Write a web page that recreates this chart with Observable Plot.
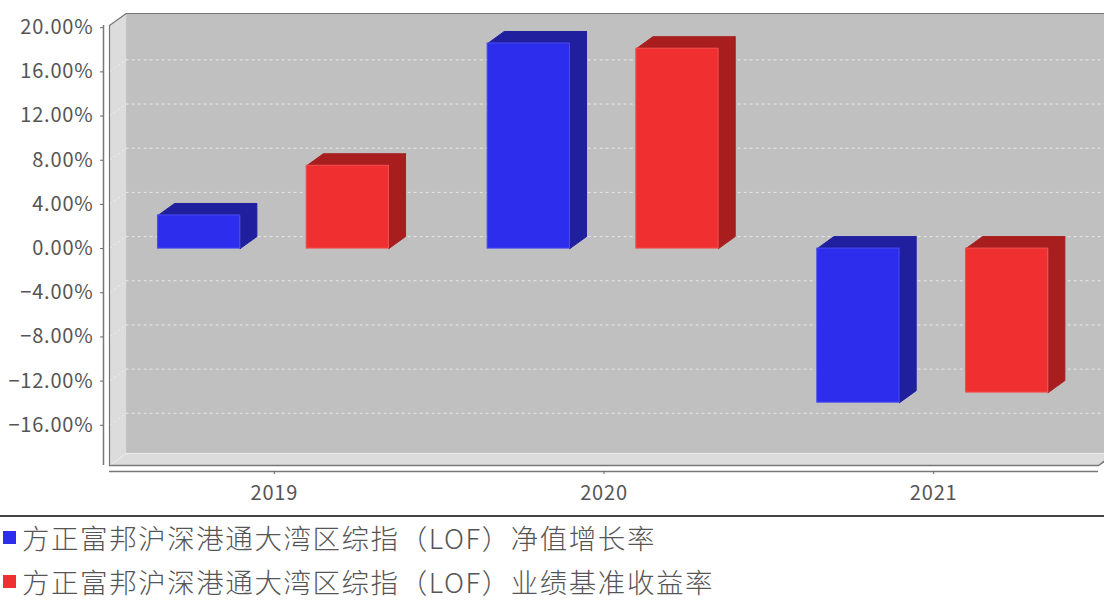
<!DOCTYPE html>
<html><head><meta charset="utf-8">
<script src="https://cdn.jsdelivr.net/npm/d3@7"></script>
<script src="https://cdn.jsdelivr.net/npm/@observablehq/plot@0.6"></script>
<style>
html,body{margin:0;padding:0;background:#fff;width:1104px;height:601px;overflow:hidden}
#chart svg{display:block}
#chart svg [aria-label="y-axis tick label"] text,#chart svg [aria-label="y-axis tick label"]{letter-spacing:0.8px}
#chart svg [aria-label="x-axis tick label"] text,#chart svg [aria-label="x-axis tick label"]{letter-spacing:0.8px}
#legend{border-top:2px solid #444;box-sizing:border-box;height:85px;position:relative;font-family:"Noto Sans CJK SC";font-weight:300;font-size:27.5px;letter-spacing:1.55px;color:#555}
.row{position:absolute;left:3px;display:flex;align-items:center;height:44px;white-space:nowrap}
.sw{width:13px;height:13px;margin-right:6px;flex:none}
</style></head><body>
<div id="chart"></div>
<div id="legend"></div>
<script>
const years = ["2019","2020","2021"];
const seriesNames = ["方正富邦沪深港通大湾区综指（LOF）净值增长率","方正富邦沪深港通大湾区综指（LOF）业绩基准收益率"];
const fundGrowth = [3.0, 18.57, -13.95];
const benchmark = [7.5, 18.1, -13.04];
const yTicks = [-16,-12,-8,-4,0,4,8,12,16,20];
const frontColors = ["#2d2ded","#f03030"];
const edgeColors = ["#4a4af0","#f25050"];
const sideColors = ["#20209f","#a81e1e"];
const wallColor = "#c0c0c0", sideWall = "#dcdcdc", edge = "#777", ink = "#555";

const yMin = -19.64, yMax = 20.2, xMax = 3;
const depthX = 0.0505, depthY = 1.087;
const barStart = [0.147, 0.598], barWidth = 0.2495;

const bars = [fundGrowth, benchmark].flatMap((vals, s) => vals.map((v, i) => ({
  s, x1: i + barStart[s], x2: i + barStart[s] + barWidth, lo: Math.min(0, v), hi: Math.max(0, v)
})));
const faces = [];
bars.forEach((b, k) => {
  const top = [[b.x1,b.hi],[b.x2,b.hi],[b.x2+depthX,b.hi+depthY],[b.x1+depthX,b.hi+depthY],[b.x1,b.hi]];
  const side = [[b.x2,b.lo],[b.x2,b.hi],[b.x2+depthX,b.hi+depthY],[b.x2+depthX,b.lo+depthY],[b.x2,b.lo]];
  top.forEach(p => faces.push({id:"t"+k, s:b.s, x:p[0], y:p[1]}));
  side.forEach(p => faces.push({id:"r"+k, s:b.s, x:p[0], y:p[1]}));
});
const poly = pts => pts.map(([x,y]) => ({x,y}));
const leftWall = poly([[0,yMin],[depthX,yMin+depthY],[depthX,yMax+depthY],[0,yMax],[0,yMin]]);
const floor = poly([[0,yMin],[xMax,yMin],[xMax+depthX,yMin+depthY],[depthX,yMin+depthY],[0,yMin]]);
const faceMark = s => Plot.line(faces.filter(f => f.s === s), {x:"x", y:"y", z:"id", fill:sideColors[s], stroke:sideColors[s], strokeWidth:1, curve:"linear"});

const fmtY = v => (v < 0 ? "\u2212" : "") + Math.abs(v).toFixed(2) + "%";

const chart = Plot.plot({
  width:1104, height:515,
  marginLeft:109, marginRight:6, marginTop:25, marginBottom:50,
  style:{background:"#fff", fontFamily:"'Noto Sans CJK SC'", overflow:"hidden"},
  x:{domain:[0,xMax], axis:null},
  y:{domain:[yMin,yMax], axis:null},
  marks:[
    Plot.rect([0],{x1:depthX, x2:xMax+depthX, y1:yMin+depthY, y2:yMax+depthY, fill:wallColor}),
    Plot.line(leftWall,{x:"x", y:"y", fill:sideWall, stroke:"none"}),
    Plot.line(floor,{x:"x", y:"y", fill:sideWall, stroke:"none"}),
    Plot.ruleY(yTicks.slice(0,-1),{y:d=>d+depthY, x1:depthX, x2:xMax+depthX, stroke:"#e8e8e8", strokeWidth:1, strokeDasharray:"3,3"}),
    Plot.link(yTicks.slice(0,-1),{x1:0, y1:d=>d, x2:depthX, y2:d=>d+depthY, stroke:"#ececec", strokeWidth:1, strokeDasharray:"3,2"}),
    Plot.link([yMin],{x1:0, y1:d=>d, x2:depthX, y2:d=>d+depthY, stroke:"#ececec", strokeWidth:1}),
    Plot.line(poly([[0,yMin],[0,yMax],[depthX,yMax+depthY],[xMax+depthX,yMax+depthY]]),{x:"x", y:"y", stroke:edge, strokeWidth:1.2}),
    Plot.line(poly([[0,yMin],[xMax,yMin],[xMax+depthX,yMin+depthY]]),{x:"x", y:"y", stroke:edge, strokeWidth:1.5}),
    faceMark(0), faceMark(1),
    Plot.rect(bars,{x1:"x1", x2:"x2", y1:"lo", y2:"hi", fill:d=>frontColors[d.s], stroke:d=>edgeColors[d.s], strokeWidth:1}),
    Plot.ruleX([0],{y1:yMin, y2:yMax, dx:-6, stroke:edge, strokeWidth:1.5}),
    Plot.ruleY([yMin],{x1:0, x2:xMax, dy:6, stroke:edge, strokeWidth:1.5}),
    Plot.axisY({ticks:yTicks, tickFormat:fmtY, anchor:"left", tickSize:3, tickPadding:7, dx:-6, fontSize:20, fill:ink, stroke:"#666", label:null}),
    Plot.axisX({ticks:[0.5,1.5,2.5], tickFormat:(d,i)=>years[i], anchor:"bottom", tickSize:3, tickPadding:11, dy:6, fontSize:20, fill:ink, stroke:"#666", label:null})
  ]
});
document.getElementById("chart").appendChild(chart);

const legend = document.getElementById("legend");
seriesNames.forEach((name,i)=>{
  const row = document.createElement("div");
  row.className = "row";
  row.style.top = (i*44 - 2) + "px";
  const sw = document.createElement("span");
  sw.className = "sw"; sw.style.background = frontColors[i];
  const t = document.createElement("span");
  t.textContent = name;
  row.append(sw,t);
  legend.appendChild(row);
});
</script>
</body></html>
